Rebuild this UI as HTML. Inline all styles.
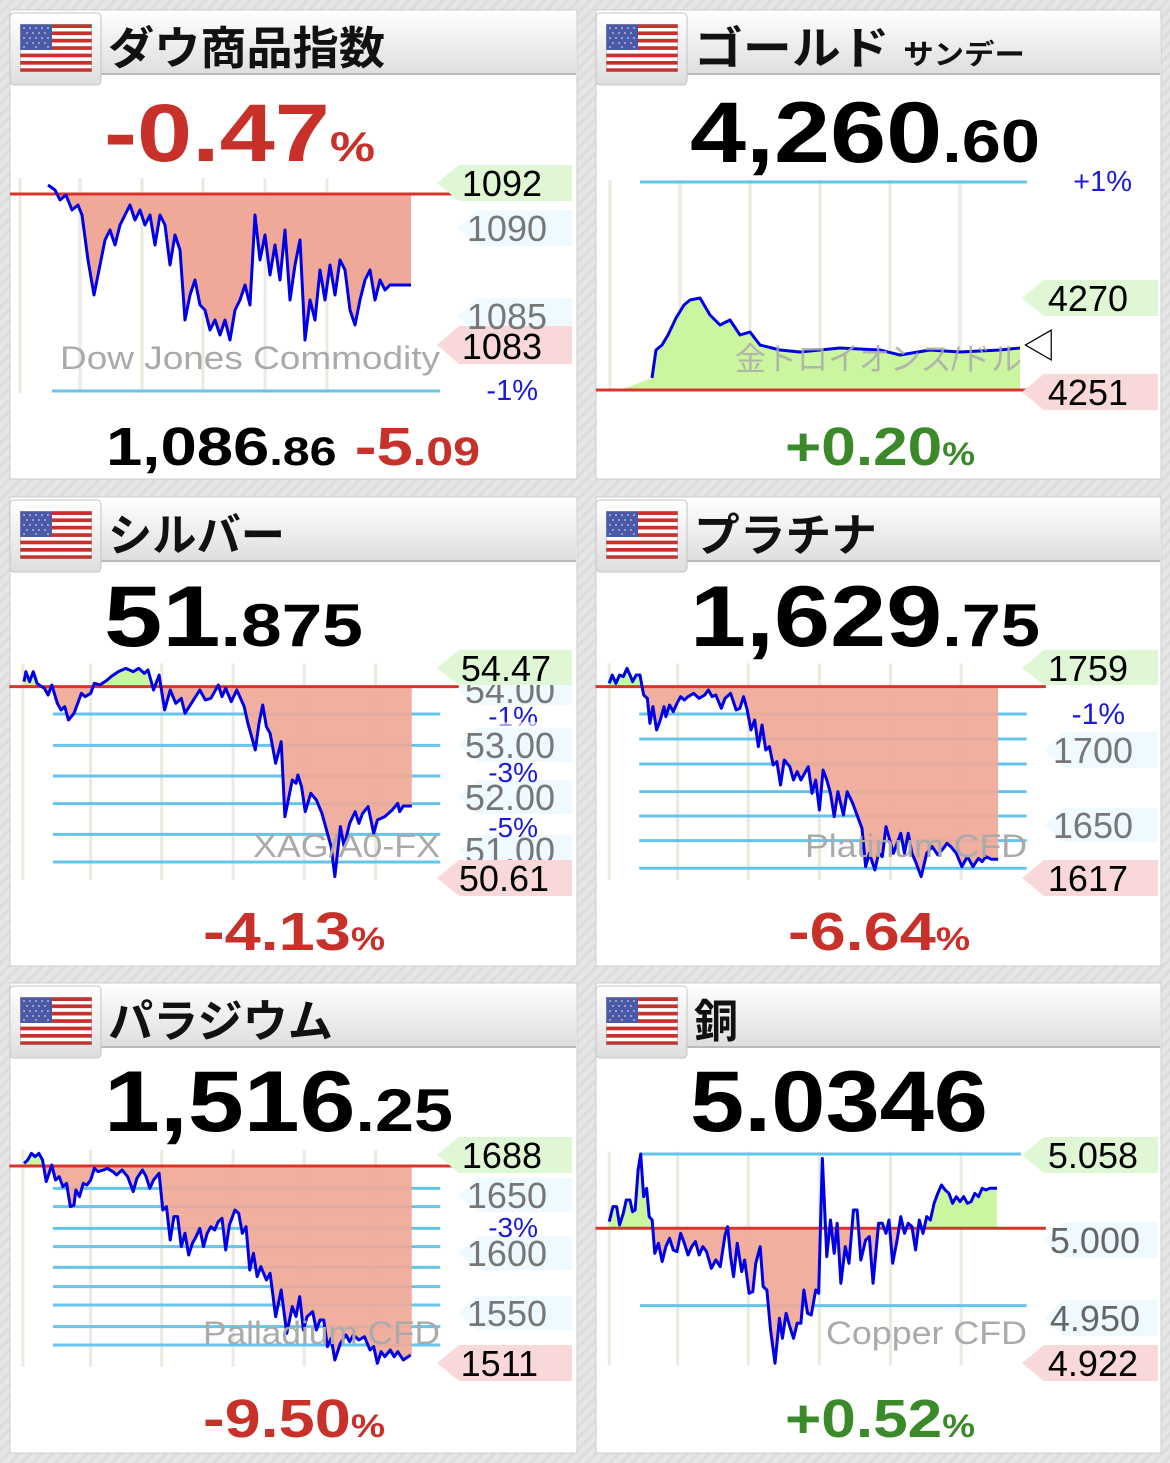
<!DOCTYPE html>
<html><head><meta charset="utf-8"><style>
body{margin:0;background:#e4e4e4;}
svg{display:block}
text{font-family:"Liberation Sans","Noto Sans CJK JP",sans-serif}
.t{font-weight:bold;font-size:45px;fill:#111}
.big{font-weight:bold;font-size:86px;fill:#000}
.lab{font-size:36px}
.wm{font-size:32px;fill:#aaa}
.ln{fill:none;stroke:#0000e6;stroke-width:3;stroke-linejoin:round}
.grid{stroke:#66c4ea;stroke-width:3}
.vg{stroke:#ede9df;stroke-width:3}
.base{stroke:#d8352a;stroke-width:3}
</style></head><body>
<svg width="1170" height="1463" viewBox="0 0 1170 1463" xmlns="http://www.w3.org/2000/svg">
<defs>
<pattern id="bg" width="8" height="8" patternUnits="userSpaceOnUse" patternTransform="rotate(45)"><rect width="8" height="8" fill="#e6e6e6"/><rect width="3" height="8" fill="#dcdcdc"/></pattern>
<linearGradient id="hd" x1="0" y1="0" x2="0" y2="1"><stop offset="0" stop-color="#ffffff"/><stop offset="1" stop-color="#dedede"/></linearGradient>
<symbol id="flag" viewBox="0 0 72 48">
<rect width="72" height="48" fill="#fff"/>
<g fill="#c8312c"><rect y="0" width="72" height="4"/><rect y="7.4" width="72" height="3.7"/><rect y="14.8" width="72" height="3.7"/><rect y="22.2" width="72" height="3.7"/><rect y="29.6" width="72" height="3.7"/><rect y="37" width="72" height="3.7"/><rect y="44.3" width="72" height="3.7"/></g>
<rect width="32" height="26" fill="#4a5aa8"/>
<g fill="#ccd" opacity=".8"><circle cx="4" cy="4" r="1"/><circle cx="10" cy="4" r="1"/><circle cx="16" cy="4" r="1"/><circle cx="22" cy="4" r="1"/><circle cx="28" cy="4" r="1"/><circle cx="7" cy="9" r="1"/><circle cx="13" cy="9" r="1"/><circle cx="19" cy="9" r="1"/><circle cx="25" cy="9" r="1"/><circle cx="4" cy="14" r="1"/><circle cx="10" cy="14" r="1"/><circle cx="16" cy="14" r="1"/><circle cx="22" cy="14" r="1"/><circle cx="28" cy="14" r="1"/><circle cx="7" cy="19" r="1"/><circle cx="13" cy="19" r="1"/><circle cx="19" cy="19" r="1"/><circle cx="25" cy="19" r="1"/><circle cx="4" cy="23" r="1"/><circle cx="16" cy="23" r="1"/><circle cx="28" cy="23" r="1"/></g>
<rect width="72" height="48" fill="none" stroke="#999" stroke-width="1"/>
</symbol>
<clipPath id="dowUp"><rect x="0" y="0" width="600" height="194"/></clipPath>
<clipPath id="dowDn"><rect x="0" y="194" width="600" height="300"/></clipPath>
<clipPath id="zUp140"><rect x="0" y="0" width="1600" height="140"/></clipPath>
<clipPath id="zDn140"><rect x="0" y="140" width="1600" height="700"/></clipPath>
<clipPath id="zUp108"><rect x="0" y="0" width="1600" height="108"/></clipPath>
<clipPath id="zDn108"><rect x="0" y="108" width="1600" height="700"/></clipPath>
<clipPath id="zUp775"><rect x="0" y="0" width="1600" height="775"/></clipPath>
<clipPath id="zDn775"><rect x="0" y="775" width="1600" height="700"/></clipPath>
</defs>
<rect width="1170" height="1463" fill="url(#bg)"/>

<g>
<rect x="10" y="10" width="567" height="469" fill="#fff" stroke="#ccc"/>
<rect x="596" y="10" width="565" height="469" fill="#fff" stroke="#ccc"/>
<rect x="10" y="497" width="567" height="469" fill="#fff" stroke="#ccc"/>
<rect x="596" y="497" width="565" height="469" fill="#fff" stroke="#ccc"/>
<rect x="10" y="983" width="567" height="470" fill="#fff" stroke="#ccc"/>
<rect x="596" y="983" width="565" height="470" fill="#fff" stroke="#ccc"/>
</g>

<g>
<rect x="11" y="11" width="565" height="63" fill="url(#hd)"/><line x1="100" y1="74" x2="576" y2="74" stroke="#bbb" stroke-width="2"/>
<rect x="597" y="11" width="563" height="63" fill="url(#hd)"/><line x1="686" y1="74" x2="1160" y2="74" stroke="#bbb" stroke-width="2"/>
<rect x="11" y="498" width="565" height="63" fill="url(#hd)"/><line x1="100" y1="561" x2="576" y2="561" stroke="#bbb" stroke-width="2"/>
<rect x="597" y="498" width="563" height="63" fill="url(#hd)"/><line x1="686" y1="561" x2="1160" y2="561" stroke="#bbb" stroke-width="2"/>
<rect x="11" y="984" width="565" height="63" fill="url(#hd)"/><line x1="100" y1="1047" x2="576" y2="1047" stroke="#bbb" stroke-width="2"/>
<rect x="597" y="984" width="563" height="63" fill="url(#hd)"/><line x1="686" y1="1047" x2="1160" y2="1047" stroke="#bbb" stroke-width="2"/>
<g fill="url(#hd)" stroke="#c4c4c4">
<rect x="10" y="13" width="91" height="72" rx="4"/><rect x="596" y="13" width="91" height="72" rx="4"/>
<rect x="10" y="500" width="91" height="72" rx="4"/><rect x="596" y="500" width="91" height="72" rx="4"/>
<rect x="10" y="986" width="91" height="72" rx="4"/><rect x="596" y="986" width="91" height="72" rx="4"/>
</g>
<use href="#flag" x="20" y="24" width="72" height="48"/><use href="#flag" x="606" y="24" width="72" height="48"/>
<use href="#flag" x="20" y="511" width="72" height="48"/><use href="#flag" x="606" y="511" width="72" height="48"/>
<use href="#flag" x="20" y="997" width="72" height="48"/><use href="#flag" x="606" y="997" width="72" height="48"/>
<text class="t" x="108" y="64" textLength="277" lengthAdjust="spacingAndGlyphs">ダウ商品指数</text>
<text class="t" x="694" y="64" textLength="331" lengthAdjust="spacingAndGlyphs">ゴールド <tspan font-size="28">サンデー</tspan></text>
<text class="t" x="108" y="551" textLength="177" lengthAdjust="spacingAndGlyphs">シルバー</text>
<text class="t" x="694" y="551" textLength="183" lengthAdjust="spacingAndGlyphs">プラチナ</text>
<text class="t" x="108" y="1037" textLength="225" lengthAdjust="spacingAndGlyphs">パラジウム</text>
<text class="t" x="694" y="1037" textLength="44" lengthAdjust="spacingAndGlyphs">銅</text>
</g>

<!-- DOW -->
<g>
<g class="vg"><line x1="20" y1="178" x2="20" y2="393"/><line x1="80" y1="178" x2="80" y2="393"/><line x1="142" y1="178" x2="142" y2="393"/><line x1="203" y1="178" x2="203" y2="393"/><line x1="265" y1="178" x2="265" y2="393"/><line x1="327" y1="178" x2="327" y2="393"/></g>
<line class="grid" x1="52" y1="391" x2="440" y2="391"/>
<polygon clip-path="url(#dowDn)" fill="#f0a898" points="48,194 48,185 55,190 60,200 66,195 72,210 78,205 82,215 88,260 94,295 100,265 105,240 110,230 115,245 120,225 125,215 130,205 135,220 140,210 145,225 150,215 155,245 160,215 165,225 170,265 175,235 180,250 185,320 190,295 195,280 200,305 205,310 210,330 215,320 220,335 225,320 230,340 235,310 240,300 245,285 250,305 255,215 260,260 265,235 270,275 275,245 280,280 285,230 290,300 295,265 300,240 305,340 310,300 315,320 320,270 325,300 330,265 335,295 340,260 345,270 350,310 355,325 360,300 365,280 370,270 375,300 380,280 385,290 390,285 411,285 411,194"/>
<line class="base" x1="10" y1="194" x2="458" y2="194"/>
<polyline class="ln" points="48,185 55,190 60,200 66,195 72,210 78,205 82,215 88,260 94,295 100,265 105,240 110,230 115,245 120,225 125,215 130,205 135,220 140,210 145,225 150,215 155,245 160,215 165,225 170,265 175,235 180,250 185,320 190,295 195,280 200,305 205,310 210,330 215,320 220,335 225,320 230,340 235,310 240,300 245,285 250,305 255,215 260,260 265,235 270,275 275,245 280,280 285,230 290,300 295,265 300,240 305,340 310,300 315,320 320,270 325,300 330,265 335,295 340,260 345,270 350,310 355,325 360,300 365,280 370,270 375,300 380,280 385,290 390,285 411,285"/>
<polygon fill="#eefaff" points="458,228 478,210 572,210 572,246 478,246"/>
<polygon fill="#eefaff" points="458,316 478,298 572,298 572,334 478,334"/>
<polygon fill="#dff7d5" points="437,183 459,165 572,165 572,201 459,201"/>
<polygon fill="#f8d8d8" points="437,345 459,326 572,326 572,364 459,364"/>
<text class="lab" x="547" y="241" text-anchor="end" fill="#777">1090</text>
<text class="lab" x="547" y="329" text-anchor="end" fill="#777">1085</text>
<text class="lab" x="542" y="196" text-anchor="end" fill="#000">1092</text>
<text class="lab" x="542" y="359" text-anchor="end" fill="#000">1083</text>
<text x="538" y="400" text-anchor="end" font-size="29" fill="#1a1adc">-1%</text>
<text class="wm" x="60" y="369" textLength="380" lengthAdjust="spacingAndGlyphs">Dow Jones Commodity</text>
<text x="104" y="161" font-weight="bold" font-size="82" fill="#c8302a" textLength="271" lengthAdjust="spacingAndGlyphs">-0.47<tspan font-size="42">%</tspan></text>
<text x="106" y="465" font-weight="bold" font-size="54" fill="#000" textLength="374" lengthAdjust="spacingAndGlyphs">1,086<tspan font-size="40">.86</tspan> <tspan fill="#c8302a">-5<tspan font-size="40">.09</tspan></tspan></text>
</g>

<!-- GOLD -->
<g>
<g class="vg"><line x1="610" y1="180" x2="610" y2="390"/><line x1="680" y1="180" x2="680" y2="390"/><line x1="750" y1="180" x2="750" y2="390"/><line x1="820" y1="180" x2="820" y2="390"/><line x1="890" y1="180" x2="890" y2="390"/><line x1="960" y1="180" x2="960" y2="390"/></g>
<line class="grid" x1="640" y1="182" x2="1027" y2="182"/>
<polygon fill="#ccf5a0" points="620,390 652,378 656,350 662,345 668,335 676,318 684,305 690,300 700,298 710,315 720,325 730,320 740,335 750,332 760,345 780,350 800,352 840,348 880,350 900,355 930,350 960,352 1000,350 1020,348 1020,390"/>
<polyline class="ln" points="652,378 656,350 662,345 668,335 676,318 684,305 690,300 700,298 710,315 720,325 730,320 740,335 750,332 760,345 780,350 800,352 840,348 880,350 900,355 930,350 960,352 1000,350 1020,348"/>
<line class="base" x1="596" y1="390" x2="1045" y2="390"/>
<polygon fill="#dff7d5" points="1022,298 1044,280 1158,280 1158,316 1044,316"/>
<polygon fill="#f8d8d8" points="1022,392 1044,374 1158,374 1158,410 1044,410"/>
<text class="lab" x="1128" y="311" text-anchor="end" fill="#000">4270</text>
<text class="lab" x="1128" y="405" text-anchor="end" fill="#000">4251</text>
<text x="1132" y="191" text-anchor="end" font-size="29" fill="#1a1adc">+1%</text>
<text x="1022" y="358" font-size="34" fill="#000">◁</text>
<text class="wm" x="735" y="370" textLength="287" lengthAdjust="spacingAndGlyphs" opacity=".85">金トロイオンス/ドル</text>
<text class="big" x="690" y="162" textLength="350" lengthAdjust="spacingAndGlyphs">4,260<tspan font-size="60">.60</tspan></text>
<text x="785" y="465" font-weight="bold" font-size="54" fill="#3a8a2a" textLength="190" lengthAdjust="spacingAndGlyphs">+0.20<tspan font-size="32">%</tspan></text>
</g>

<!-- SILVER -->
<g>
<g transform="translate(0,640) scale(0.37,0.3333)">
<g class="vg"><line x1="62" y1="70" x2="62" y2="720" vector-effect="non-scaling-stroke"/><line x1="245" y1="70" x2="245" y2="720" vector-effect="non-scaling-stroke"/><line x1="437" y1="70" x2="437" y2="720" vector-effect="non-scaling-stroke"/><line x1="630" y1="70" x2="630" y2="720" vector-effect="non-scaling-stroke"/><line x1="822" y1="70" x2="822" y2="720" vector-effect="non-scaling-stroke"/><line x1="1015" y1="70" x2="1015" y2="720" vector-effect="non-scaling-stroke"/></g>
<g class="grid"><line x1="143" y1="222" x2="1190" y2="222" vector-effect="non-scaling-stroke"/><line x1="143" y1="316" x2="1190" y2="316" vector-effect="non-scaling-stroke"/><line x1="143" y1="408" x2="1190" y2="408" vector-effect="non-scaling-stroke"/><line x1="143" y1="491" x2="1190" y2="491" vector-effect="non-scaling-stroke"/><line x1="143" y1="583" x2="1190" y2="583" vector-effect="non-scaling-stroke"/><line x1="143" y1="666" x2="1190" y2="666" vector-effect="non-scaling-stroke"/></g>
<polygon clip-path="url(#zDn140)" fill="#f0a898" opacity=".92" points="65,140 65,125 70,95 80,125 90,95 100,130 120,145 130,165 140,135 155,190 165,210 175,200 185,240 200,220 210,190 220,160 230,170 245,160 255,130 270,135 290,120 300,110 320,95 340,85 360,95 375,85 390,100 400,90 415,150 430,105 445,210 460,150 475,190 490,175 500,220 520,185 540,150 555,180 570,175 590,135 600,170 610,145 625,185 640,150 660,200 670,250 690,330 700,250 710,195 720,260 730,280 745,370 760,305 770,530 790,420 800,430 805,405 815,440 825,515 840,460 855,480 870,520 885,580 895,620 905,710 920,560 930,620 945,550 960,515 970,550 980,520 995,500 1010,580 1020,540 1040,530 1060,510 1075,490 1080,515 1090,498 1113,498 1113,140"/>
<polygon clip-path="url(#zUp140)" fill="#ccf5a0" points="65,140 65,125 70,95 80,125 90,95 100,130 120,145 130,165 140,135 155,190 165,210 175,200 185,240 200,220 210,190 220,160 230,170 245,160 255,130 270,135 290,120 300,110 320,95 340,85 360,95 375,85 390,100 400,90 415,150 430,105 445,210 460,150 475,190 490,175 500,220 520,185 540,150 555,180 570,175 590,135 600,170 610,145 625,185 640,150 660,200 1113,140"/>
<line class="base" x1="25" y1="140" x2="1240" y2="140" vector-effect="non-scaling-stroke"/>
<polyline class="ln" vector-effect="non-scaling-stroke" points="65,125 70,95 80,125 90,95 100,130 120,145 130,165 140,135 155,190 165,210 175,200 185,240 200,220 210,190 220,160 230,170 245,160 255,130 270,135 290,120 300,110 320,95 340,85 360,95 375,85 390,100 400,90 415,150 430,105 445,210 460,150 475,190 490,175 500,220 520,185 540,150 555,180 570,175 590,135 600,170 610,145 625,185 640,150 660,200 670,250 690,330 700,250 710,195 720,260 730,280 745,370 760,305 770,530 790,420 800,430 805,405 815,440 825,515 840,460 855,480 870,520 885,580 895,620 905,710 920,560 930,620 945,550 960,515 970,550 980,520 995,500 1010,580 1020,540 1040,530 1060,510 1075,490 1080,515 1090,498 1113,498"/>
</g>
<g fill="#eefaff"><polygon points="458,690 478,675 572,675 572,705 478,705"/><polygon points="458,745 478,728 572,728 572,762 478,762"/><polygon points="458,797 478,780 572,780 572,814 478,814"/><polygon points="458,850 478,835 572,835 572,865 478,865"/></g>
<text class="lab" x="555" y="703" text-anchor="end" fill="#777">54.00</text>
<text class="lab" x="555" y="758" text-anchor="end" fill="#777">53.00</text>
<text class="lab" x="555" y="810" text-anchor="end" fill="#777">52.00</text>
<text class="lab" x="555" y="863" text-anchor="end" fill="#777">51.00</text>
<text x="538" y="726" text-anchor="end" font-size="28" fill="#1a1adc">-1%</text>
<text x="538" y="782" text-anchor="end" font-size="28" fill="#1a1adc">-3%</text>
<text x="538" y="837" text-anchor="end" font-size="28" fill="#1a1adc">-5%</text>
<rect x="470" y="722" width="100" height="6" fill="#fff" opacity=".6"/>
<polygon fill="#dff7d5" points="437,668 459,650 572,650 572,685 459,685"/>
<polygon fill="#f8d8d8" points="437,878 459,860 572,860 572,896 459,896"/>
<text class="lab" x="551" y="681" text-anchor="end" fill="#000">54.47</text>
<text class="lab" x="549" y="891" text-anchor="end" fill="#000">50.61</text>
<text class="wm" x="253" y="857" textLength="187" lengthAdjust="spacingAndGlyphs">XAG/A0-FX</text>
<text class="big" x="104" y="646" textLength="259" lengthAdjust="spacingAndGlyphs">51<tspan font-size="60">.875</tspan></text>
<text x="203" y="950" font-weight="bold" font-size="54" fill="#c8302a" textLength="182" lengthAdjust="spacingAndGlyphs">-4.13<tspan font-size="32">%</tspan></text>
</g>

<!-- PLATINUM -->
<g>
<g transform="translate(590,640) scale(0.37,0.3333)">
<g class="vg"><line x1="52" y1="70" x2="52" y2="720" vector-effect="non-scaling-stroke"/><line x1="237" y1="70" x2="237" y2="720" vector-effect="non-scaling-stroke"/><line x1="428" y1="70" x2="428" y2="720" vector-effect="non-scaling-stroke"/><line x1="620" y1="70" x2="620" y2="720" vector-effect="non-scaling-stroke"/><line x1="812" y1="70" x2="812" y2="720" vector-effect="non-scaling-stroke"/><line x1="1003" y1="70" x2="1003" y2="720" vector-effect="non-scaling-stroke"/></g>
<g class="grid"><line x1="133" y1="222" x2="1180" y2="222" vector-effect="non-scaling-stroke"/><line x1="133" y1="297" x2="1180" y2="297" vector-effect="non-scaling-stroke"/><line x1="133" y1="372" x2="1180" y2="372" vector-effect="non-scaling-stroke"/><line x1="133" y1="455" x2="1180" y2="455" vector-effect="non-scaling-stroke"/><line x1="133" y1="528" x2="1180" y2="528" vector-effect="non-scaling-stroke"/><line x1="133" y1="602" x2="1180" y2="602" vector-effect="non-scaling-stroke"/><line x1="133" y1="685" x2="1180" y2="685" vector-effect="non-scaling-stroke"/></g>
<polygon clip-path="url(#zDn140)" fill="#f0a898" opacity=".92" points="52,140 52,130 60,105 70,130 80,105 90,110 100,85 110,110 115,125 125,105 135,105 145,165 155,175 162,250 170,200 180,270 190,240 200,200 205,230 215,195 225,215 235,190 245,170 255,180 265,170 280,160 295,175 310,165 320,150 330,170 340,165 355,205 365,175 380,160 395,210 405,205 415,170 425,210 435,270 445,240 455,320 465,255 475,330 485,320 495,375 505,365 515,435 525,360 540,380 550,420 560,395 570,420 590,380 600,460 610,420 620,510 630,390 640,420 650,460 660,530 670,455 685,525 695,455 710,490 720,520 735,565 745,680 755,640 770,690 780,640 790,650 800,560 810,600 820,640 830,610 840,580 850,640 860,580 870,640 880,665 895,710 910,640 925,620 940,645 955,625 965,610 975,620 990,640 1005,680 1020,650 1035,680 1050,655 1060,665 1070,650 1085,658 1103,658 1103,140"/>
<polygon clip-path="url(#zUp140)" fill="#ccf5a0" points="52,140 52,130 60,105 70,130 80,105 90,110 100,85 110,110 115,125 125,105 135,105 145,165 1103,140"/>
<line class="base" x1="15" y1="140" x2="1232" y2="140" vector-effect="non-scaling-stroke"/>
<polyline class="ln" vector-effect="non-scaling-stroke" points="52,130 60,105 70,130 80,105 90,110 100,85 110,110 115,125 125,105 135,105 145,165 155,175 162,250 170,200 180,270 190,240 200,200 205,230 215,195 225,215 235,190 245,170 255,180 265,170 280,160 295,175 310,165 320,150 330,170 340,165 355,205 365,175 380,160 395,210 405,205 415,170 425,210 435,270 445,240 455,320 465,255 475,330 485,320 495,375 505,365 515,435 525,360 540,380 550,420 560,395 570,420 590,380 600,460 610,420 620,510 630,390 640,420 650,460 660,530 670,455 685,525 695,455 710,490 720,520 735,565 745,680 755,640 770,690 780,640 790,650 800,560 810,600 820,640 830,610 840,580 850,640 860,580 870,640 880,665 895,710 910,640 925,620 940,645 955,625 965,610 975,620 990,640 1005,680 1020,650 1035,680 1050,655 1060,665 1070,650 1085,658 1103,658"/>
</g>
<g fill="#eefaff"><polygon points="1044,750 1064,732 1158,732 1158,768 1064,768"/><polygon points="1044,825 1064,808 1158,808 1158,842 1064,842"/></g>
<text class="lab" x="1133" y="763" text-anchor="end" fill="#777">1700</text>
<text class="lab" x="1133" y="838" text-anchor="end" fill="#777">1650</text>
<text x="1125" y="724" text-anchor="end" font-size="30" fill="#1a1adc">-1%</text>
<polygon fill="#dff7d5" points="1022,668 1044,650 1158,650 1158,685 1044,685"/>
<polygon fill="#f8d8d8" points="1022,878 1044,860 1158,860 1158,896 1044,896"/>
<text class="lab" x="1128" y="681" text-anchor="end" fill="#000">1759</text>
<text class="lab" x="1128" y="891" text-anchor="end" fill="#000">1617</text>
<text class="wm" x="805" y="857" textLength="222" lengthAdjust="spacingAndGlyphs">Platinum CFD</text>
<text class="big" x="690" y="646" textLength="350" lengthAdjust="spacingAndGlyphs">1,629<tspan font-size="60">.75</tspan></text>
<text x="788" y="950" font-weight="bold" font-size="54" fill="#c8302a" textLength="182" lengthAdjust="spacingAndGlyphs">-6.64<tspan font-size="32">%</tspan></text>
</g>

<!-- PALLADIUM -->
<g>
<g transform="translate(0,1130) scale(0.37,0.3333)">
<g class="vg"><line x1="62" y1="60" x2="62" y2="710" vector-effect="non-scaling-stroke"/><line x1="245" y1="60" x2="245" y2="710" vector-effect="non-scaling-stroke"/><line x1="437" y1="60" x2="437" y2="710" vector-effect="non-scaling-stroke"/><line x1="630" y1="60" x2="630" y2="710" vector-effect="non-scaling-stroke"/><line x1="822" y1="60" x2="822" y2="710" vector-effect="non-scaling-stroke"/><line x1="1015" y1="60" x2="1015" y2="710" vector-effect="non-scaling-stroke"/></g>
<g class="grid"><line x1="143" y1="175" x2="1190" y2="175" vector-effect="non-scaling-stroke"/><line x1="143" y1="230" x2="1190" y2="230" vector-effect="non-scaling-stroke"/><line x1="143" y1="295" x2="1190" y2="295" vector-effect="non-scaling-stroke"/><line x1="143" y1="350" x2="1190" y2="350" vector-effect="non-scaling-stroke"/><line x1="143" y1="412" x2="1190" y2="412" vector-effect="non-scaling-stroke"/><line x1="143" y1="470" x2="1190" y2="470" vector-effect="non-scaling-stroke"/><line x1="143" y1="525" x2="1190" y2="525" vector-effect="non-scaling-stroke"/><line x1="143" y1="590" x2="1190" y2="590" vector-effect="non-scaling-stroke"/><line x1="143" y1="645" x2="1190" y2="645" vector-effect="non-scaling-stroke"/></g>
<polygon clip-path="url(#zDn108)" fill="#f0a898" opacity=".92" points="65,108 65,100 75,90 85,70 95,80 105,70 115,90 125,155 140,105 150,150 160,140 170,170 180,160 190,230 200,225 205,180 215,200 225,160 235,165 245,150 255,115 265,125 280,120 290,115 305,125 315,135 330,120 345,140 360,185 370,145 385,120 395,140 405,175 415,150 430,130 440,240 450,230 460,330 470,260 480,260 490,350 500,310 510,375 520,340 530,320 540,295 550,350 560,310 570,290 580,300 590,275 600,265 610,360 620,285 635,240 645,250 655,310 665,290 675,420 685,370 695,440 705,410 720,450 730,430 745,560 760,480 775,610 790,530 800,560 810,500 820,600 830,560 845,545 855,600 865,570 875,570 885,650 895,625 905,690 920,640 935,615 945,635 955,615 970,630 985,620 1000,660 1010,650 1020,700 1030,665 1040,680 1055,660 1065,680 1075,665 1090,690 1110,675 1113,675 1113,108"/>
<polygon clip-path="url(#zUp108)" fill="#ccf5a0" points="65,108 65,100 75,90 85,70 95,80 105,70 115,90 125,155 1113,108"/>
<line class="base" x1="25" y1="108" x2="1240" y2="108" vector-effect="non-scaling-stroke"/>
<polyline class="ln" vector-effect="non-scaling-stroke" points="65,100 75,90 85,70 95,80 105,70 115,90 125,155 140,105 150,150 160,140 170,170 180,160 190,230 200,225 205,180 215,200 225,160 235,165 245,150 255,115 265,125 280,120 290,115 305,125 315,135 330,120 345,140 360,185 370,145 385,120 395,140 405,175 415,150 430,130 440,240 450,230 460,330 470,260 480,260 490,350 500,310 510,375 520,340 530,320 540,295 550,350 560,310 570,290 580,300 590,275 600,265 610,360 620,285 635,240 645,250 655,310 665,290 675,420 685,370 695,440 705,410 720,450 730,430 745,560 760,480 775,610 790,530 800,560 810,500 820,600 830,560 845,545 855,600 865,570 875,570 885,650 895,625 905,690 920,640 935,615 945,635 955,615 970,630 985,620 1000,660 1010,650 1020,700 1030,665 1040,680 1055,660 1065,680 1075,665 1090,690 1110,675"/>
</g>
<g fill="#eefaff"><polygon points="458,1195 478,1178 572,1178 572,1212 478,1212"/><polygon points="458,1253 478,1236 572,1236 572,1270 478,1270"/><polygon points="458,1313 478,1296 572,1296 572,1330 478,1330"/></g>
<text class="lab" x="547" y="1208" text-anchor="end" fill="#777">1650</text>
<text class="lab" x="547" y="1266" text-anchor="end" fill="#777">1600</text>
<text class="lab" x="547" y="1326" text-anchor="end" fill="#777">1550</text>
<text x="538" y="1237" text-anchor="end" font-size="28" fill="#1a1adc">-3%</text>
<polygon fill="#dff7d5" points="437,1155 459,1137 572,1137 572,1173 459,1173"/>
<polygon fill="#f8d8d8" points="437,1363 459,1345 572,1345 572,1381 459,1381"/>
<text class="lab" x="542" y="1168" text-anchor="end" fill="#000">1688</text>
<text class="lab" x="538" y="1376" text-anchor="end" fill="#000">1511</text>
<text class="wm" x="203" y="1344" textLength="237" lengthAdjust="spacingAndGlyphs">Palladium CFD</text>
<text class="big" x="104" y="1131" textLength="349" lengthAdjust="spacingAndGlyphs">1,516<tspan font-size="60">.25</tspan></text>
<text x="203" y="1437" font-weight="bold" font-size="54" fill="#c8302a" textLength="182" lengthAdjust="spacingAndGlyphs">-9.50<tspan font-size="32">%</tspan></text>
</g>

<!-- COPPER -->
<g>
<g transform="translate(590,970) scale(0.37,0.3333)">
<g class="vg"><line x1="52" y1="545" x2="52" y2="1185" vector-effect="non-scaling-stroke"/><line x1="237" y1="545" x2="237" y2="1185" vector-effect="non-scaling-stroke"/><line x1="428" y1="545" x2="428" y2="1185" vector-effect="non-scaling-stroke"/><line x1="620" y1="545" x2="620" y2="1185" vector-effect="non-scaling-stroke"/><line x1="812" y1="545" x2="812" y2="1185" vector-effect="non-scaling-stroke"/><line x1="1003" y1="545" x2="1003" y2="1185" vector-effect="non-scaling-stroke"/></g>
<g class="grid"><line x1="135" y1="552" x2="1165" y2="552" vector-effect="non-scaling-stroke"/><line x1="135" y1="1007" x2="1180" y2="1007" vector-effect="non-scaling-stroke"/></g>
<polygon clip-path="url(#zDn775)" fill="#f0a898" opacity=".92" points="52,775 52,755 62,710 72,710 80,765 90,730 98,690 108,690 115,725 122,720 130,600 137,552 145,680 153,655 160,740 168,750 175,850 185,820 195,875 205,830 215,805 225,840 235,845 245,790 255,820 265,855 275,830 285,815 295,855 305,830 315,845 328,895 340,870 352,890 365,795 372,770 380,860 388,920 398,820 410,905 418,870 430,970 440,965 448,880 460,830 468,950 478,960 488,1080 500,1180 512,1045 520,1105 530,1030 540,1070 550,1105 560,1060 570,1060 578,960 588,1030 598,1035 610,960 618,970 628,565 640,860 650,750 660,850 668,760 678,940 690,830 700,880 712,720 722,720 732,870 745,810 755,800 765,940 780,760 790,760 800,790 808,750 818,880 830,810 840,740 850,790 860,760 870,770 880,840 890,750 900,790 910,740 920,750 930,700 940,670 950,645 960,660 970,670 980,700 990,680 1000,695 1010,680 1020,700 1030,695 1040,670 1050,680 1060,655 1070,660 1080,655 1100,655 1100,775"/>
<polygon clip-path="url(#zUp775)" fill="#ccf5a0" points="52,775 52,755 62,710 72,710 80,765 90,730 98,690 108,690 115,725 122,720 130,600 137,552 145,680 153,655 160,740 168,750 175,850 185,820 195,875 205,830 215,805 225,840 235,845 245,790 255,820 265,855 275,830 285,815 295,855 305,830 315,845 328,895 340,870 352,890 365,795 372,770 380,860 388,920 398,820 410,905 418,870 430,970 440,965 448,880 460,830 468,950 478,960 488,1080 500,1180 512,1045 520,1105 530,1030 540,1070 550,1105 560,1060 570,1060 578,960 588,1030 598,1035 610,960 618,970 628,565 640,860 650,750 660,850 668,760 678,940 690,830 700,880 712,720 722,720 732,870 745,810 755,800 765,940 780,760 790,760 800,790 808,750 818,880 830,810 840,740 850,790 860,760 870,770 880,840 890,750 900,790 910,740 920,750 930,700 940,670 950,645 960,660 970,670 980,700 990,680 1000,695 1010,680 1020,700 1030,695 1040,670 1050,680 1060,655 1070,660 1080,655 1100,655 1100,775"/>
<line class="base" x1="15" y1="775" x2="1232" y2="775" vector-effect="non-scaling-stroke"/>
<polyline class="ln" vector-effect="non-scaling-stroke" points="52,755 62,710 72,710 80,765 90,730 98,690 108,690 115,725 122,720 130,600 137,552 145,680 153,655 160,740 168,750 175,850 185,820 195,875 205,830 215,805 225,840 235,845 245,790 255,820 265,855 275,830 285,815 295,855 305,830 315,845 328,895 340,870 352,890 365,795 372,770 380,860 388,920 398,820 410,905 418,870 430,970 440,965 448,880 460,830 468,950 478,960 488,1080 500,1180 512,1045 520,1105 530,1030 540,1070 550,1105 560,1060 570,1060 578,960 588,1030 598,1035 610,960 618,970 628,565 640,860 650,750 660,850 668,760 678,940 690,830 700,880 712,720 722,720 732,870 745,810 755,800 765,940 780,760 790,760 800,790 808,750 818,880 830,810 840,740 850,790 860,760 870,770 880,840 890,750 900,790 910,740 920,750 930,700 940,670 950,645 960,660 970,670 980,700 990,680 1000,695 1010,680 1020,700 1030,695 1040,670 1050,680 1060,655 1070,660 1080,655 1100,655"/>
</g>
<g fill="#eefaff"><polygon points="1044,1240 1064,1222 1158,1222 1158,1258 1064,1258"/><polygon points="1044,1318 1064,1300 1158,1300 1158,1336 1064,1336"/></g>
<text class="lab" x="1140" y="1253" text-anchor="end" fill="#666">5.000</text>
<text class="lab" x="1140" y="1331" text-anchor="end" fill="#666">4.950</text>
<polygon fill="#dff7d5" points="1022,1155 1044,1137 1158,1137 1158,1173 1044,1173"/>
<polygon fill="#f8d8d8" points="1022,1363 1044,1345 1158,1345 1158,1381 1044,1381"/>
<text class="lab" x="1138" y="1168" text-anchor="end" fill="#000">5.058</text>
<text class="lab" x="1138" y="1376" text-anchor="end" fill="#000">4.922</text>
<text class="wm" x="826" y="1344" textLength="201" lengthAdjust="spacingAndGlyphs">Copper CFD</text>
<text class="big" x="690" y="1131" textLength="298" lengthAdjust="spacingAndGlyphs">5.0346</text>
<text x="785" y="1437" font-weight="bold" font-size="54" fill="#3a8a2a" textLength="190" lengthAdjust="spacingAndGlyphs">+0.52<tspan font-size="32">%</tspan></text>
</g>
</svg>
</body></html>
